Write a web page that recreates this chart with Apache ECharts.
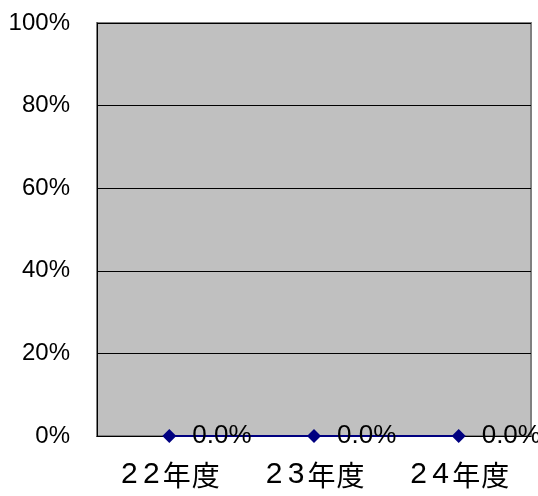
<!DOCTYPE html>
<html><head><meta charset="utf-8">
<script src="https://cdn.jsdelivr.net/npm/echarts@6/dist/echarts.min.js"></script>
<style>html,body{margin:0;padding:0;background:#fff}#c{width:538px;height:496px}</style>
</head><body><div id="c"></div>
<script>
const categories = ['22年度', '23年度', '24年度'];
const values = [0.0, 0.0, 0.0];
const yTicks = [0, 20, 40, 60, 80, 100];

function catLabel(s) {
  let out = '';
  for (const ch of s) {
    out += /[0-9]/.test(ch) ? '{d|' + ch + '}' : '{k|' + ch + '}';
  }
  return out;
}

const chart = echarts.init(document.getElementById('c'), null, {renderer: 'canvas'});
chart.setOption({
  animation: false,
  backgroundColor: '#ffffff',
  grid: {left: 97, right: 7, top: 23, bottom: 60, show: true, backgroundColor: '#c0c0c0', borderColor: '#808080', borderWidth: 2},
  xAxis: {
    type: 'category', data: categories, boundaryGap: true,
    axisLine: {lineStyle: {color: '#000', width: 1}},
    axisTick: {show: false},
    axisLabel: {color: '#000', margin: 24, formatter: catLabel,
      rich: {
        d: {fontSize: 30, fontFamily: 'Liberation Sans', width: 22, align: 'center', color: '#000', lineHeight: 30},
        k: {fontSize: 28, fontFamily: 'Noto Sans CJK JP', width: 29, align: 'center', color: '#000', lineHeight: 30}
      }}
  },
  yAxis: {
    type: 'value', min: 0, max: 100, interval: 20,
    axisLine: {show: true, lineStyle: {color: '#000', width: 1}},
    axisTick: {show: true, inside: true, length: 6, lineStyle: {color: '#000'}},
    splitLine: {show: true, lineStyle: {color: '#000', width: 1}},
    axisLabel: {color: '#000', fontSize: 24, margin: 27, fontFamily: 'Liberation Sans',
      formatter: v => yTicks.includes(v) ? v + '%' : ''}
  },
  series: [{
    type: 'line', data: values,
    symbol: 'diamond', symbolSize: 14,
    itemStyle: {color: '#000080'},
    lineStyle: {color: '#000080', width: 2},
    label: {show: true, position: 'right', distance: 16, color: '#000', fontSize: 26, fontFamily: 'Liberation Sans',
      formatter: p => p.value.toFixed(1) + '%'}
  }]
});
</script></body></html>
